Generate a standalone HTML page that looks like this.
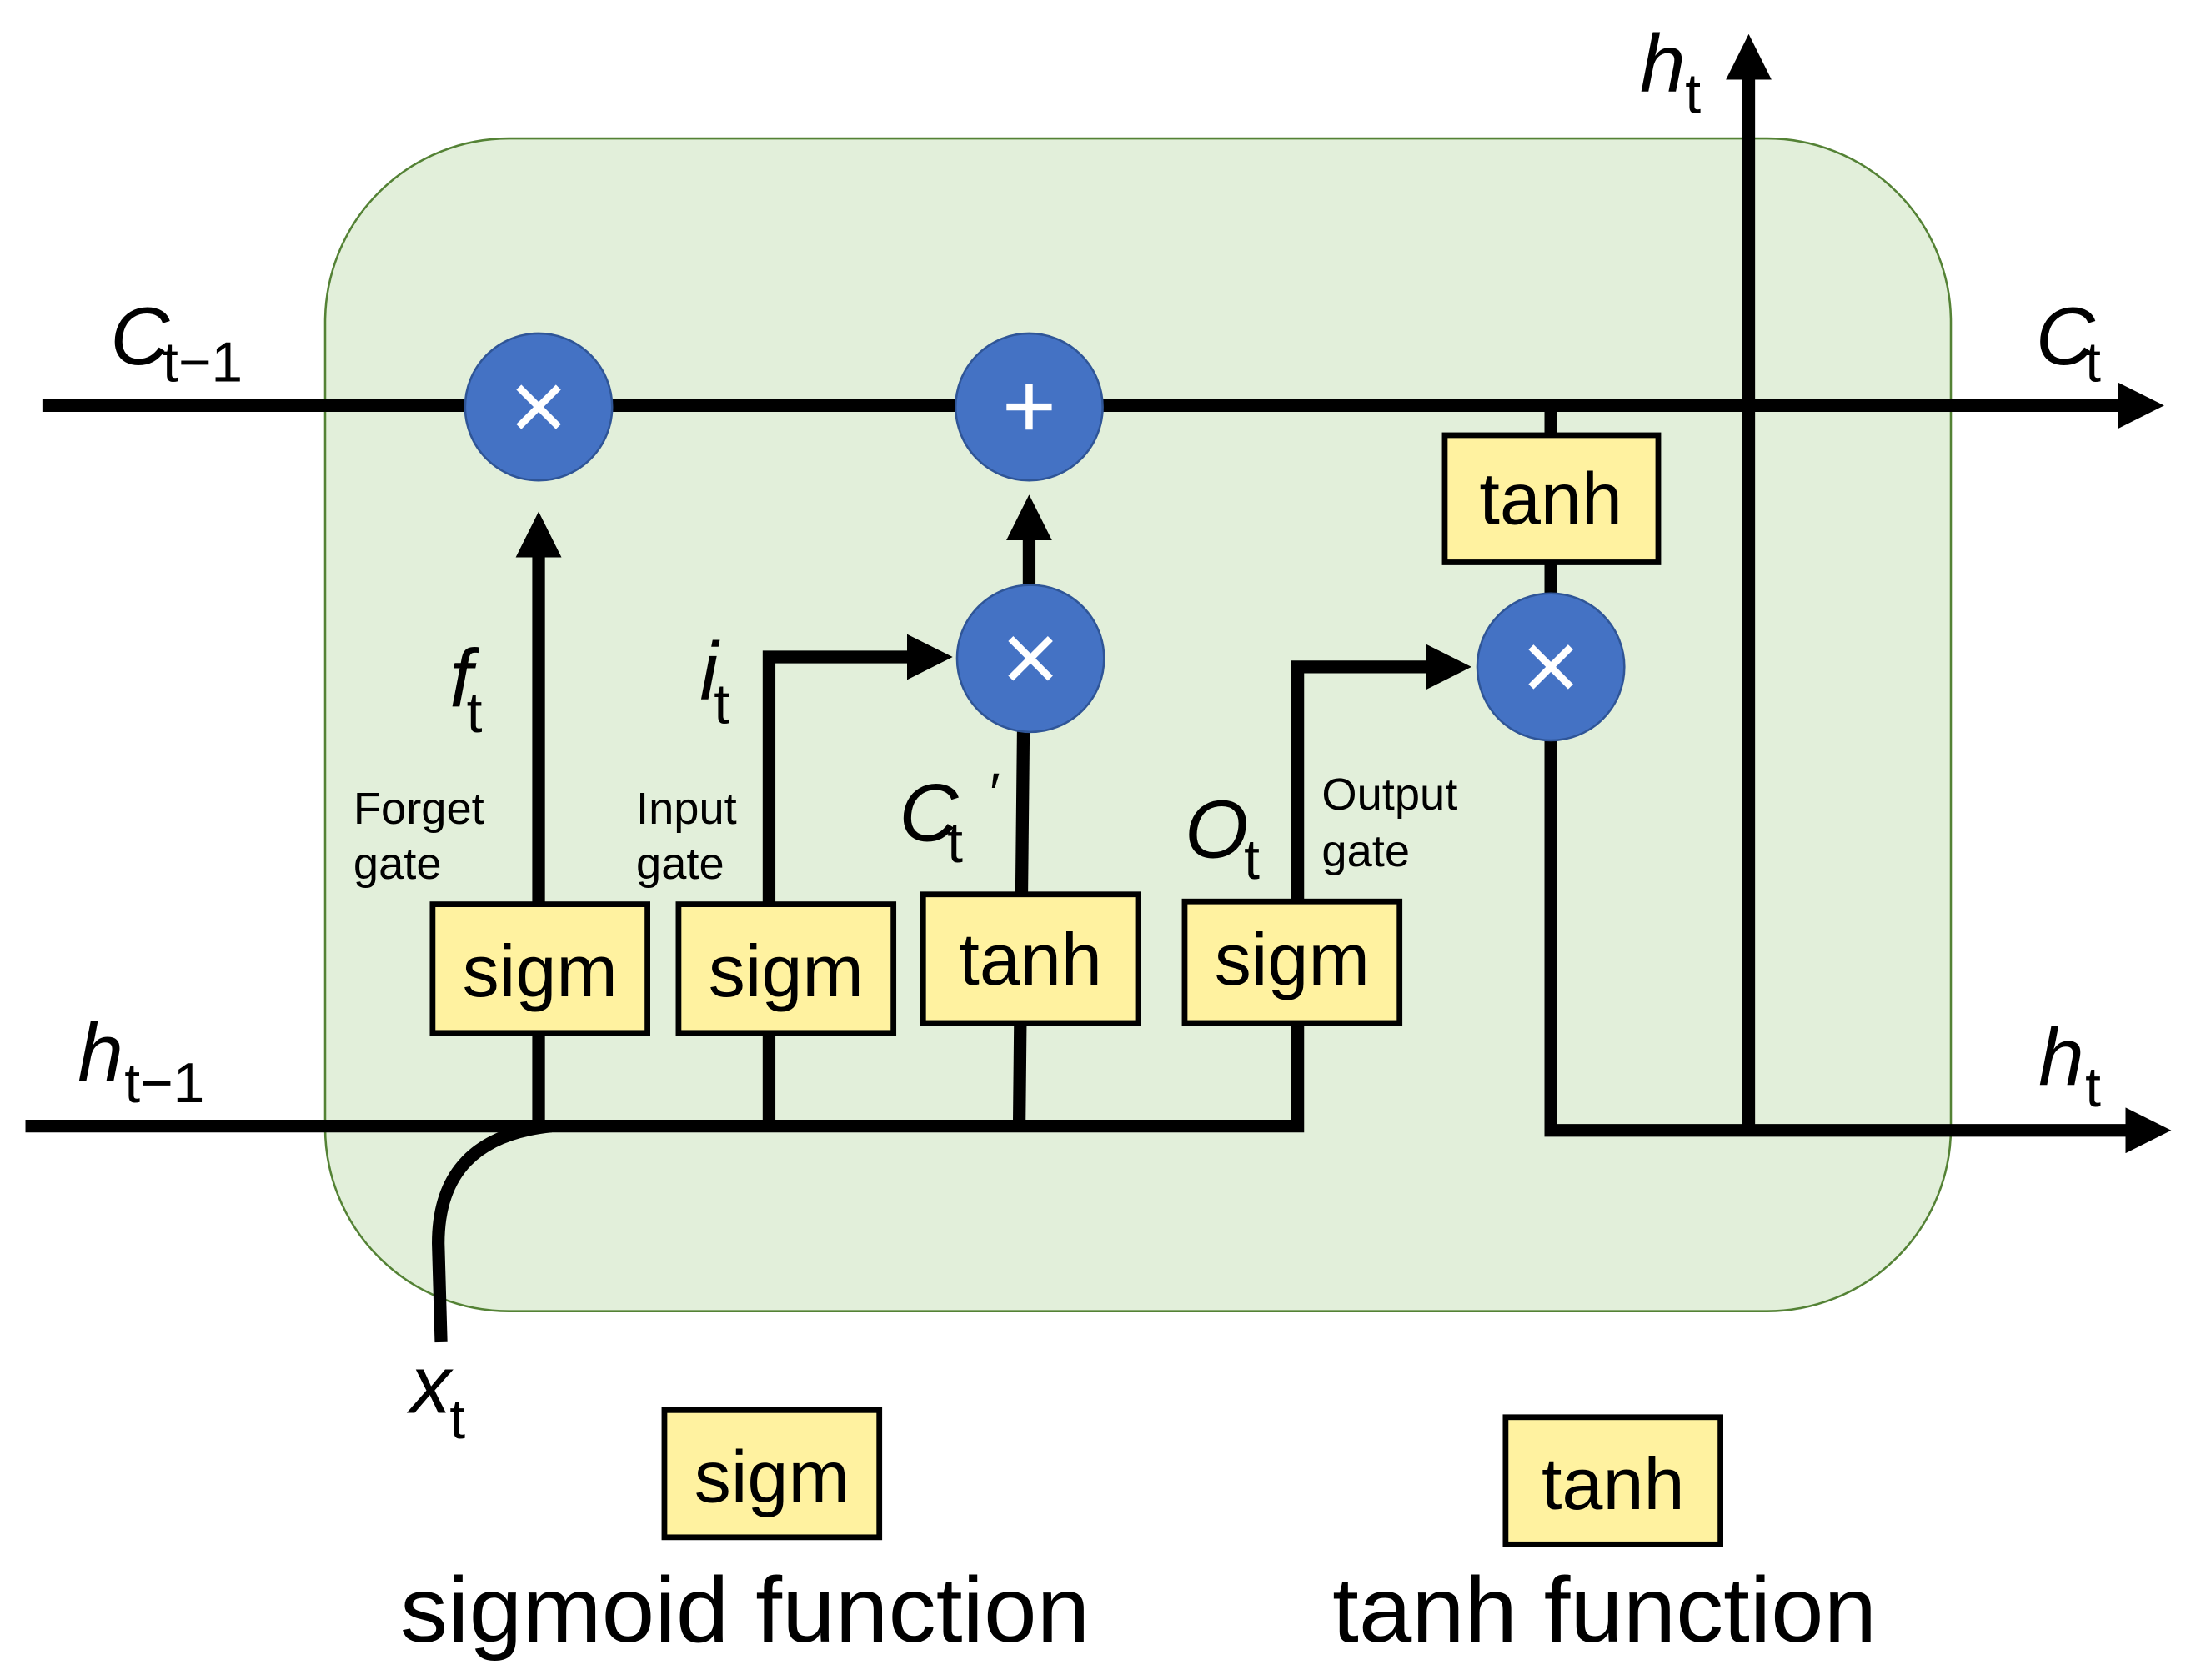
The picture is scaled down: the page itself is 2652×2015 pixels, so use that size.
<!DOCTYPE html>
<html><head><meta charset="utf-8"><style>
html,body{margin:0;padding:0;background:#fff;}
svg{display:block;}
text{font-family:"Liberation Sans",sans-serif;fill:#000;}
.it{font-style:italic;}
</style></head><body>
<svg width="2652" height="2015" viewBox="0 0 1564 1189" preserveAspectRatio="none" xmlns="http://www.w3.org/2000/svg">
<defs>
<marker id="ah" viewBox="0 0 10 10" refX="2" refY="5" markerWidth="3.6" markerHeight="3.6" orient="auto" markerUnits="strokeWidth">
<path d="M0,0 L10,5 L0,10 z" fill="#000"/></marker>
</defs>
<rect x="230" y="98" width="1150" height="830" rx="130" ry="130" fill="#e2efda" stroke="#548235" stroke-width="1.5"/>
<g stroke="#000" stroke-width="9" fill="none">
<line x1="30" y1="287" x2="1505" y2="287" marker-end="url(#ah)"/>
<line x1="1237" y1="800" x2="1237" y2="50" marker-end="url(#ah)"/>
<polyline points="18,797 918,797 918,472 1015,472" marker-end="url(#ah)"/>
<polyline points="1097,524 1097,800 1510,800" marker-end="url(#ah)"/>
<line x1="1097" y1="287" x2="1097" y2="420"/>
<line x1="381" y1="797" x2="381" y2="388" marker-end="url(#ah)"/>
<polyline points="544,797 544,465 648,465" marker-end="url(#ah)"/>
<polyline points="721,797 725,414"/>
<line x1="728" y1="414" x2="728" y2="376" marker-end="url(#ah)"/>
<path d="M312,950 L310,880 Q310,805 390,797"/>
</g>
<g fill="#4472c4" stroke="#2f5597" stroke-width="1.5">
<circle cx="381" cy="288" r="52"/><circle cx="728" cy="288" r="52"/>
<circle cx="729" cy="466" r="52"/><circle cx="1097" cy="472" r="52"/>
</g>
<g stroke="#fff" stroke-width="5" stroke-linecap="butt">
<path d="M367,274 L395,302 M395,274 L367,302"/>
<path d="M715,452 L743,480 M743,452 L715,480"/>
<path d="M1083,458 L1111,486 M1111,458 L1083,486"/>
<path d="M728,272 L728,304 M712,288 L744,288"/>
</g>
<g fill="#fff2a0" stroke="#000" stroke-width="4">
<rect x="306" y="640" width="152" height="91"/><rect x="480" y="640" width="152" height="91"/>
<rect x="653" y="633" width="152" height="91"/><rect x="838" y="638" width="152" height="86"/>
<rect x="1022" y="308" width="151" height="90"/>
<rect x="470" y="998" width="152" height="90"/><rect x="1065" y="1003" width="152" height="90"/>
</g>
<g font-size="52" text-anchor="middle">
<text x="382" y="705">sigm</text><text x="556" y="705">sigm</text>
<text x="729" y="697">tanh</text><text x="914" y="697">sigm</text>
<text x="1097" y="371">tanh</text>
<text x="546" y="1063">sigm</text><text x="1141" y="1068">tanh</text>
</g>
<g font-size="66" text-anchor="middle">
<text x="527" y="1162" textLength="488" lengthAdjust="spacingAndGlyphs">sigmoid function</text>
<text x="1135" y="1162" textLength="385" lengthAdjust="spacingAndGlyphs">tanh function</text>
</g>
<g font-size="32">
<text x="250" y="583">Forget</text><text x="250" y="622">gate</text>
<text x="450" y="583">Input</text><text x="450" y="622">gate</text>
<text x="935" y="573">Output</text><text x="935" y="613">gate</text>
</g>
<g font-size="58">
<text class="it" x="78" y="258">C</text><text x="115" y="270" font-size="40">t−1</text>
<text class="it" x="1440" y="258">C</text><text x="1475" y="270" font-size="40">t</text>
<text class="it" x="55" y="765">h</text><text x="88" y="780" font-size="40">t−1</text>
<text class="it" x="1442" y="768">h</text><text x="1475" y="783" font-size="40">t</text>
<text class="it" x="1160" y="65">h</text><text x="1192" y="80" font-size="40">t</text>
<text class="it" x="318" y="500">f</text><text x="330" y="518" font-size="40">t</text>
<text class="it" x="495" y="495">i</text><text x="505" y="512" font-size="40">t</text>
<text class="it" x="636" y="595">C</text><text x="670" y="610" font-size="40">t</text><text x="700" y="575" font-size="40">′</text>
<text class="it" x="838" y="607">O</text><text x="880" y="622" font-size="40">t</text>
<text class="it" x="290" y="1000">x</text><text x="318" y="1018" font-size="40">t</text>
</g>
</svg>
</body></html>
